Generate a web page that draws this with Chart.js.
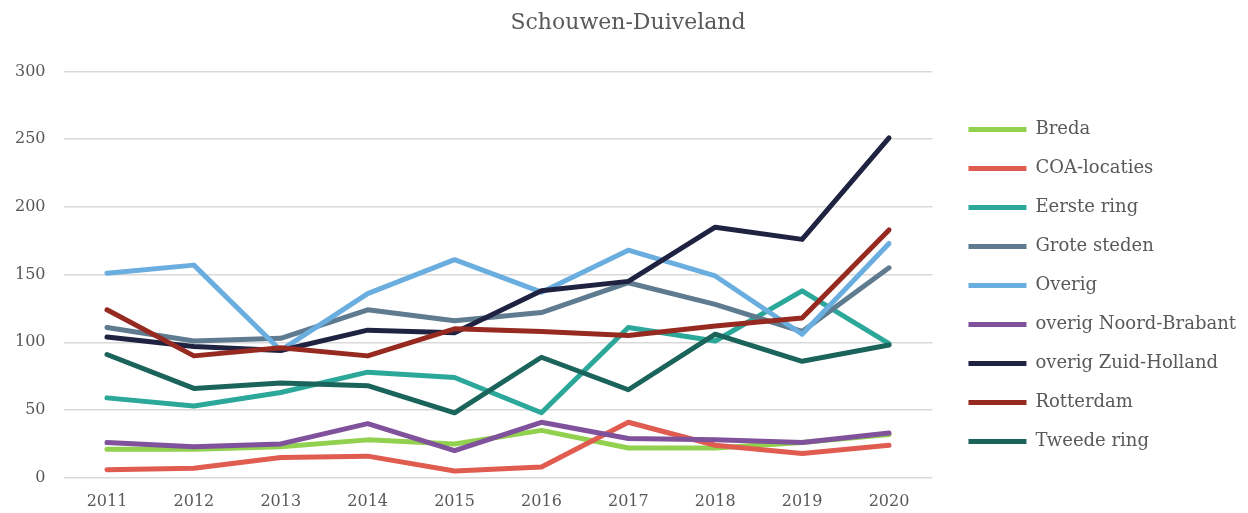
<!DOCTYPE html>
<html>
<head>
<meta charset="utf-8">
<script src="https://cdn.jsdelivr.net/npm/chart.js@4/dist/chart.umd.min.js"></script>
<style>
  html, body { margin: 0; padding: 0; background: #fff; }
  #wrap { width: 1248px; height: 513px; }
</style>
</head>
<body>
<div id="wrap"><canvas id="chart"></canvas></div>
<script>
const years = ['2011', '2012', '2013', '2014', '2015', '2016', '2017', '2018', '2019', '2020'];

const breda = [21, 21, 23, 28, 25, 35, 22, 22, 26, 32];
const coaLocaties = [6, 7, 15, 16, 5, 8, 41, 24, 18, 24];
const eersteRing = [59, 53, 63, 78, 74, 48, 111, 101, 138, 99];
const groteSteden = [111, 101, 103, 124, 116, 122, 144, 128, 108, 155];
const overig = [151, 157, 94, 136, 161, 137, 168, 149, 106, 173];
const overigNoordBrabant = [26, 23, 25, 40, 20, 41, 29, 28, 26, 33];
const overigZuidHolland = [104, 97, 94, 109, 107, 138, 145, 185, 176, 251];
const rotterdam = [124, 90, 96, 90, 110, 108, 105, 112, 118, 183];
const tweedeRing = [91, 66, 70, 68, 48, 89, 65, 106, 86, 98];

const yTicks = [0, 50, 100, 150, 200, 250, 300];

const font = '"DejaVu Serif", "Liberation Serif", serif';
const grey = '#595959';

const series = [
    ['Breda', breda, '#92d050'],
    ['COA-locaties', coaLocaties, '#e05c50'],
    ['Eerste ring', eersteRing, '#2ca89a'],
    ['Grote steden', groteSteden, '#5f7b8f'],
    ['Overig', overig, '#6aaee0'],
    ['overig Noord-Brabant', overigNoordBrabant, '#7f529b'],
    ['overig Zuid-Holland', overigZuidHolland, '#1f2341'],
    ['Rotterdam', rotterdam, '#962a20'],
    ['Tweede ring', tweedeRing, '#1b645b']
];

// later series drawn on top, like the original
const datasets = series.map(([label, data, color], i) => ({
    label,
    data,
    borderColor: color,
    backgroundColor: color,
    borderWidth: 5,
    borderCapStyle: 'round',
    borderJoinStyle: 'round',
    pointRadius: 0,
    tension: 0,
    order: series.length - i
}));

// nudge the legend away from the plot and down a little, recentre the title
const layoutNudge = {
    id: 'layoutNudge',
    afterLayout(chart) {
        const lg = chart.legend;
        lg.left += 15;
        lg.right += 15;
        lg.top += 23;
        lg.bottom += 23;
        const t = chart.titleBlock;
        t.left += 14;
        t.right += 14;
    }
};

new Chart(document.getElementById('chart'), {
    type: 'line',
    data: { labels: years, datasets },
    plugins: [layoutNudge],
    options: {
        responsive: true,
        maintainAspectRatio: false,
        animation: false,
        layout: { padding: { left: -3, right: 17, top: 0, bottom: -12 } },
        plugins: {
            title: {
                display: true,
                text: 'Schouwen-Duiveland',
                color: grey,
                font: { family: font, size: 22, weight: 'normal' },
                padding: { top: 10, bottom: 35 }
            },
            legend: {
                position: 'right',
                labels: {
                    color: grey,
                    font: { family: font, size: 18 },
                    usePointStyle: true,
                    pointStyle: 'line',
                    pointStyleWidth: 58,
                    boxHeight: 10,
                    padding: 21,
                    sort: (a, b) => a.datasetIndex - b.datasetIndex
                }
            },
            tooltip: { enabled: false }
        },
        scales: {
            y: {
                min: 0,
                max: 300,
                afterBuildTicks: (axis) => { axis.ticks = yTicks.map(v => ({ value: v })); },
                grid: { color: '#d9d9d9', lineWidth: 1.5, drawTicks: false },
                border: { display: false },
                ticks: { color: grey, font: { family: font, size: 16 }, padding: 18 }
            },
            x: {
                offset: true,
                grid: { display: false, drawTicks: false },
                border: { display: false },
                ticks: { color: grey, font: { family: font, size: 16 }, padding: 14 }
            }
        }
    }
});
</script>
</body>
</html>
